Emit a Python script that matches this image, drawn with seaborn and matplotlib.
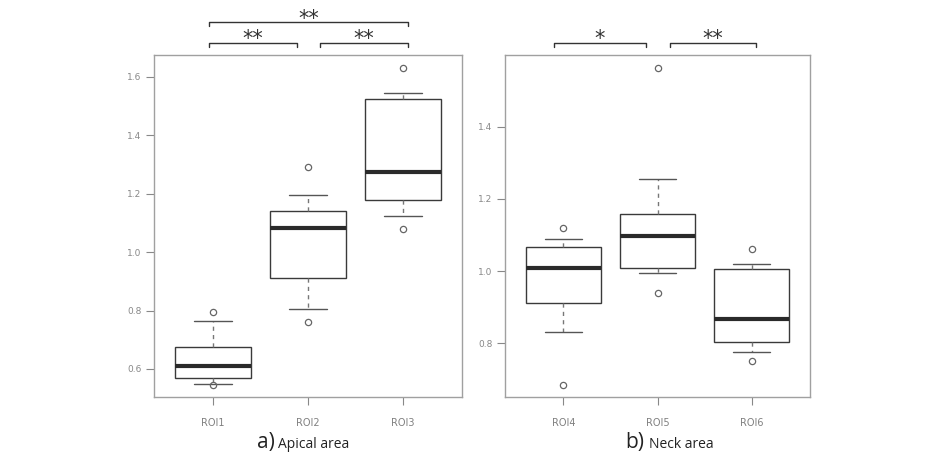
import numpy as np
import pandas as pd
import matplotlib
matplotlib.use("Agg")
import matplotlib.pyplot as plt
import seaborn as sns

# ---- data ----
apical_rois = ["ROI1", "ROI2", "ROI3"]
neck_rois = ["ROI4", "ROI5", "ROI6"]
roi1 = [0.546, 0.549, 0.568, 0.59, 0.611, 0.64, 0.676, 0.765, 0.795]
roi2 = [0.760, 0.805, 0.911, 0.99, 1.083, 1.12, 1.141, 1.194, 1.292]
roi3 = [1.079, 1.124, 1.179, 1.23, 1.275, 1.41, 1.525, 1.544, 1.632]
roi4 = [0.684, 0.830, 0.911, 0.96, 1.009, 1.04, 1.066, 1.089, 1.120]
roi5 = [0.938, 0.994, 1.009, 1.05, 1.098, 1.13, 1.157, 1.256, 1.562]
roi6 = [0.752, 0.777, 0.803, 0.83, 0.867, 0.95, 1.005, 1.019, 1.062]
apical_ticks = [0.6, 0.8, 1.0, 1.2, 1.4, 1.6]
neck_ticks = [0.8, 1.0, 1.2, 1.4]
apical_sig = [("**", 0, 1, 0), ("**", 1, 2, 0), ("**", 0, 2, 1)]
neck_sig = [("*", 0, 1, 0), ("**", 1, 2, 0)]

sns.set_theme(style="white")
plt.rcParams["font.family"] = ["DejaVu Sans"]

df_a = pd.DataFrame({"roi": np.repeat(apical_rois, 9), "value": roi1 + roi2 + roi3})
df_b = pd.DataFrame({"roi": np.repeat(neck_rois, 9), "value": roi4 + roi5 + roi6})

W, H = 951, 454
fig = plt.figure(figsize=(W / 100, H / 100), dpi=100)
ax_a = fig.add_axes([154 / W, (H - 397) / H, (462 - 154) / W, 342 / H])
ax_b = fig.add_axes([505 / W, (H - 397) / H, (810 - 505) / W, 342 / H])

box_kw = dict(
    x="roi", y="value", width=0.8, whis=(10, 90), color="white",
    linecolor="#3a3a3a", linewidth=1.0, fliersize=4.5,
    flierprops=dict(marker="o", markerfacecolor="none", markeredgecolor="#666666",
                    markeredgewidth=0.9),
    whiskerprops=dict(linestyle=(0, (3, 3)), color="#777777"),
    capprops=dict(color="#555555"),
    medianprops=dict(linewidth=3.0, color="#2a2a2a"),
)

def style_axes(ax, ticks, ylim):
    ax.set_xlim(-0.62, 2.62)
    ax.set_ylim(*ylim)
    ax.set_yticks(ticks)
    ax.set_yticklabels([f"{t:.1f}" for t in ticks])
    ax.set_xlabel("")
    ax.set_ylabel("")
    for s in ax.spines.values():
        s.set_visible(True)
        s.set_color("#a0a0a0")
        s.set_linewidth(1.0)
    ax.tick_params(axis="y", left=True, length=6, width=0.8, color="#888888",
                   labelsize=6.5, labelcolor="#888888", pad=3)
    ax.tick_params(axis="x", bottom=True, length=6, width=0.8, color="#888888",
                   labelsize=7, labelcolor="#808080", pad=9)

sns.boxplot(data=df_a, ax=ax_a, **box_kw)
sns.boxplot(data=df_b, ax=ax_b, **box_kw)
style_axes(ax_a, apical_ticks, (0.504, 1.675))
style_axes(ax_b, neck_ticks, (0.651, 1.599))

# significance brackets
for ax, sig in ((ax_a, apical_sig), (ax_b, neck_sig)):
    t = ax.get_xaxis_transform()
    levels = [1.035, 1.097]
    text_levels = [1.046, 1.106]
    for text, i, j, lev in sig:
        y = levels[lev]
        x0 = i - 0.04 if i == 0 else i + 0.13
        x1 = j - 0.12 if (j - i == 1 and i == 0) else j + 0.05
        if ax is ax_b and i == 0:
            x0 = i - 0.1
        ax.plot([x0, x0, x1, x1], [y - 0.013, y, y, y - 0.013], transform=t,
                color="#333333", lw=1.0, clip_on=False)
        ax.text((x0 + x1) / 2, text_levels[lev], text, transform=t, ha="center",
                va="center", fontsize=15, color="#333333")

# captions
cap_y = (H - 448) / H
fig.text(275 / W, cap_y, "a)", ha="right", va="baseline", fontsize=15,
         family=["Open Sans", "DejaVu Sans"], color="#222222")
fig.text(278 / W, cap_y, "Apical area", ha="left", va="baseline", fontsize=10,
         family=["Open Sans", "DejaVu Sans"], color="#222222")
fig.text(644 / W, cap_y, "b)", ha="right", va="baseline", fontsize=15,
         family=["Open Sans", "DejaVu Sans"], color="#222222")
fig.text(649 / W, cap_y, "Neck area", ha="left", va="baseline", fontsize=10,
         family=["Open Sans", "DejaVu Sans"], color="#222222")

fig.savefig("out.png", dpi=100)
